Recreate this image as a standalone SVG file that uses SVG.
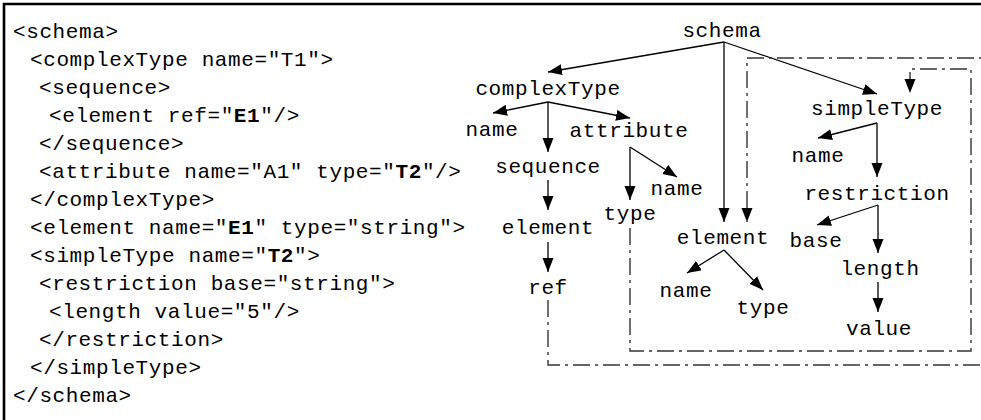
<svg xmlns="http://www.w3.org/2000/svg" width="981" height="420" viewBox="0 0 981 420">
<defs>
<marker id="ah" markerUnits="userSpaceOnUse" markerWidth="15" markerHeight="12" refX="14" refY="5.5" orient="auto"><path d="M0,0 L14,5.5 L0,11 z" fill="#000"/></marker>
</defs>
<style>
text{font-family:"Liberation Mono","Courier New",monospace;font-size:21px;letter-spacing:0.6px;fill:#000}
.n text{text-anchor:middle}
.b{font-weight:bold}
.s{fill:none;stroke:#000;stroke-width:1.3;marker-end:url(#ah)}
.d{fill:none;stroke:#333;stroke-width:1.4;stroke-dasharray:17 5 3 5;marker-end:url(#ah)}
.frame{stroke:#000;stroke-width:2.6;fill:none}
</style>
<rect width="981" height="420" fill="#fff"/>
<path class="frame" d="M4,420 V4 H981"/>
<g id="code">
<text x="13" y="38">&lt;schema&gt;</text>
<text x="30" y="66">&lt;complexType name="T1"&gt;</text>
<text x="39" y="94">&lt;sequence&gt;</text>
<text x="49" y="122">&lt;element ref="<tspan class="b">E1</tspan>"/&gt;</text>
<text x="39" y="150">&lt;/sequence&gt;</text>
<text x="39" y="178">&lt;attribute name="A1" type="<tspan class="b">T2</tspan>"/&gt;</text>
<text x="30" y="206">&lt;/complexType&gt;</text>
<text x="30" y="234">&lt;element name="<tspan class="b">E1</tspan>" type="string"&gt;</text>
<text x="30" y="262">&lt;simpleType name="<tspan class="b">T2</tspan>"&gt;</text>
<text x="39" y="290">&lt;restriction base="string"&gt;</text>
<text x="49" y="318">&lt;length value="5"/&gt;</text>
<text x="39" y="346">&lt;/restriction&gt;</text>
<text x="30" y="374">&lt;/simpleType&gt;</text>
<text x="13" y="402">&lt;/schema&gt;</text>
</g>
<g id="connectors">
<path class="s" d="M724,42 L548,72"/>
<path class="s" d="M724,42 L724,222"/>
<path class="s" d="M724,42 L877,94"/>
<path class="s" d="M548,102 L493,113"/>
<path class="s" d="M548,102 L548,152"/>
<path class="s" d="M548,102 L630,118"/>
<path class="s" d="M630,147 L630,200"/>
<path class="s" d="M630,147 L677,177"/>
<path class="s" d="M548,180 L548,210"/>
<path class="s" d="M548,242 L548,272"/>
<path class="s" d="M724,250 L687,273"/>
<path class="s" d="M724,250 L763,290"/>
<path class="s" d="M877,123 L818,138"/>
<path class="s" d="M877,123 L877,177"/>
<path class="s" d="M878,205 L817,225"/>
<path class="s" d="M878,205 L878,253"/>
<path class="s" d="M878,282 L878,312"/>
<path class="d" d="M630,228 V351 H971 V69 H910 V93"/>
<path class="d" d="M548,300 V365 H995 V58 H747 V222"/>
</g>
<g class="n">
<g id="n-schema"><text x="722" y="37">schema</text></g>
<g id="n-complexType"><text x="548" y="95">complexType</text></g>
<g id="n-ct-name"><text x="492" y="136">name</text></g>
<g id="n-sequence"><text x="548" y="173">sequence</text></g>
<g id="n-attribute"><text x="629" y="137">attribute</text></g>
<g id="n-attr-name"><text x="677" y="195">name</text></g>
<g id="n-attr-type"><text x="630" y="220">type</text></g>
<g id="n-seq-element"><text x="548" y="234">element</text></g>
<g id="n-ref"><text x="548" y="294">ref</text></g>
<g id="n-element"><text x="723" y="244">element</text></g>
<g id="n-el-name"><text x="686" y="297">name</text></g>
<g id="n-el-type"><text x="763" y="314">type</text></g>
<g id="n-simpleType"><text x="877" y="115">simpleType</text></g>
<g id="n-st-name"><text x="818" y="162">name</text></g>
<g id="n-restriction"><text x="877" y="200">restriction</text></g>
<g id="n-base"><text x="816" y="247">base</text></g>
<g id="n-length"><text x="880" y="275">length</text></g>
<g id="n-value"><text x="879" y="335">value</text></g>
</g>
</svg>
